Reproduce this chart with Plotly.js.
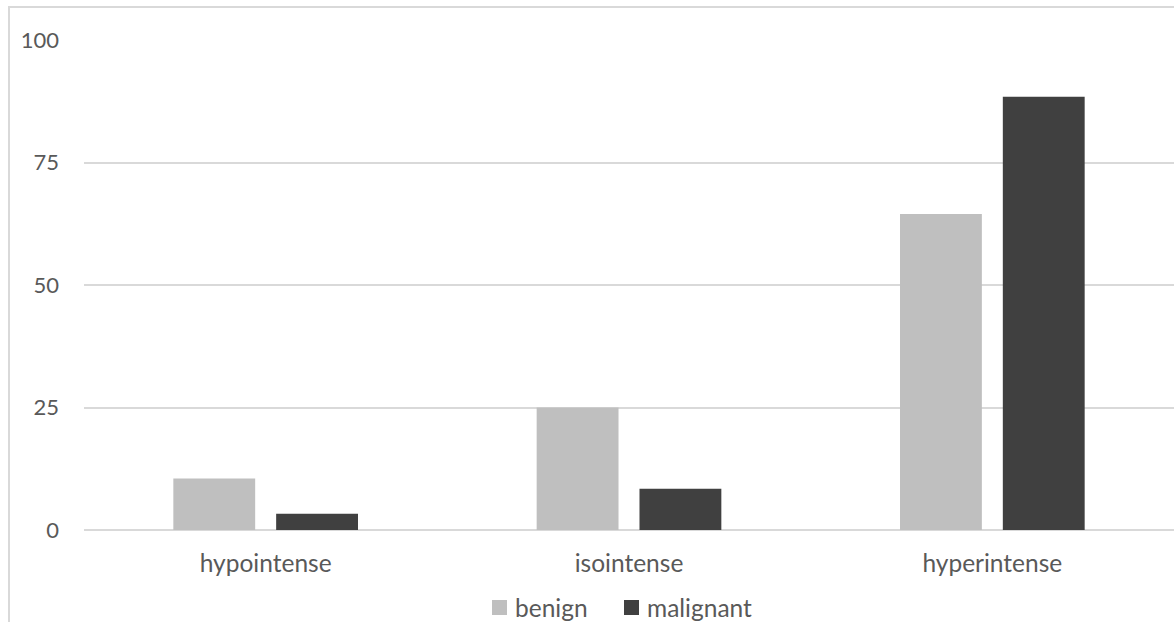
<!DOCTYPE html>
<html>
<head>
<meta charset="utf-8">
<script src="https://cdn.plot.ly/plotly-3.0.1.min.js"></script>
<style>
html,body{margin:0;padding:0;background:#fff;overflow:hidden;}
#frame{position:absolute;left:8px;top:6px;width:1170px;height:620px;border-left:2px solid #d9d9d9;border-top:2px solid #d9d9d9;}
#chart{position:absolute;left:0;top:0;width:1174px;height:622px;}
</style>
</head>
<body>
<div id="frame"></div>
<div id="chart"></div>
<script>
const categories = ["hypointense", "isointense", "hyperintense"];
const seriesNames = ["benign", "malignant"];
const benign = [10.5, 25.0, 64.5];
const malignant = [3.3, 8.4, 88.4];
const yTicks = [0, 25, 50, 75, 100];
const colors = ["#bfbfbf", "#404040"];

const yFont = {family: "Lato, 'Open Sans', sans-serif", size: 22, color: "#595959"};
const xFont = {family: "Lato, 'Open Sans', sans-serif", size: 24.5, color: "#595959"};

const data = [
  {type: "bar", name: seriesNames[0], x: categories, y: benign, marker: {color: colors[0]}, hoverinfo: "none"},
  {type: "bar", name: seriesNames[1], x: categories, y: malignant, marker: {color: colors[1]}, hoverinfo: "none"}
];

// custom legend (swatch + label), positioned in paper coordinates
const W = 1174, H = 622, mL = 84, mR = 0, mT = 40, mB = 92;
const pw = W - mL - mR, ph = H - mT - mB;
const px = v => (v - mL) / pw;
const py = v => (H - mB - v) / ph;
const legendItems = [{x0: 492, tx: 513}, {x0: 624, tx: 645}];
const shapes = legendItems.map((it, i) => ({
  type: "rect", xref: "paper", yref: "paper",
  x0: px(it.x0), x1: px(it.x0 + 15), y0: py(600), y1: py(615),
  fillcolor: colors[i], line: {width: 0}
}));
const annotations = legendItems.map((it, i) => ({
  xref: "paper", yref: "paper", x: px(it.tx), y: py(607), xanchor: "left", yanchor: "middle",
  text: seriesNames[i], showarrow: false, font: xFont
}));

const layout = {
  width: W, height: H,
  margin: {l: mL, r: mR, t: mT, b: mB},
  paper_bgcolor: "rgba(0,0,0,0)",
  plot_bgcolor: "rgba(0,0,0,0)",
  font: yFont,
  barmode: "group",
  bargap: 0.434,
  bargroupgap: 0.204,
  showlegend: false,
  shapes: shapes,
  annotations: annotations,
  xaxis: {showgrid: false, zeroline: false, showline: false, ticks: "", tickfont: xFont, ticklabelstandoff: 16, fixedrange: true},
  yaxis: {range: [0, 100], tickvals: yTicks, ticktext: yTicks.map(String), showgrid: true, gridcolor: "#d9d9d9", gridwidth: 2,
          zeroline: true, zerolinecolor: "#d9d9d9", zerolinewidth: 2, showline: false, ticks: "", ticklabelstandoff: 24, tickfont: yFont, fixedrange: true}
};

Plotly.newPlot("chart", data, layout, {staticPlot: true, displayModeBar: false});
</script>
</body>
</html>
